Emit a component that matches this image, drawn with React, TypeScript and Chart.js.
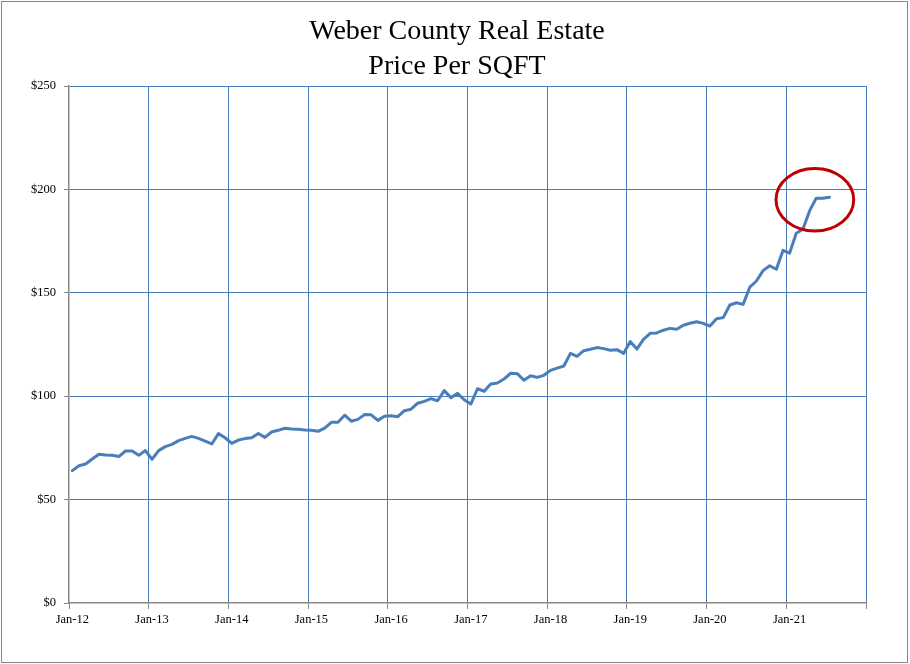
import { useEffect, useRef } from "react";
import { Chart, registerables } from "chart.js";

Chart.register(...registerables);

const years = ["12", "13", "14", "15", "16", "17", "18", "19", "20", "21"];
const monthNames = ["Jan", "Feb", "Mar", "Apr", "May", "Jun", "Jul", "Aug", "Sep", "Oct", "Nov", "Dec"];
const categories = years.flatMap((y) => monthNames.map((m) => `${m}-${y}`));

const pricePerSqft = [
  64.0, 66.4, 67.2, 69.6, 71.9, 71.6, 71.4, 70.8, 73.5, 73.5, 71.4, 73.7,
  69.5, 73.7, 75.6, 76.7, 78.5, 79.6, 80.6, 79.6, 78.3, 76.9, 81.9, 79.9,
  77.2, 78.8, 79.5, 79.9, 82.0, 80.1, 82.7, 83.5, 84.5, 84.1, 84.0, 83.7,
  83.5, 83.0, 84.6, 87.4, 87.4, 90.8, 87.9, 88.8, 91.1, 91.0, 88.3, 90.3,
  90.5, 90.1, 93.0, 93.7, 96.6, 97.5, 98.8, 97.8, 102.7, 99.3, 101.4, 98.3,
  96.2, 103.6, 102.4, 105.9, 106.4, 108.3, 111.1, 110.9, 107.7, 109.9, 109.1, 110.1,
  112.5, 113.6, 114.6, 120.7, 119.3, 122.0, 122.7, 123.5, 123.0, 122.2, 122.5, 120.7,
  126.4, 122.8, 127.5, 130.4, 130.6, 131.9, 132.8, 132.4, 134.3, 135.3, 136.0, 135.2,
  133.9, 137.5, 138.0, 144.1, 145.2, 144.4, 152.7, 155.7, 160.7, 163.1, 161.4, 170.5,
  169.2, 178.8, 180.7, 189.6, 195.7, 195.7, 196.2,
];

const yMin = 0;
const yMax = 250;
const yStep = 50;
const titleLines = ["Weber County Real Estate", "Price Per SQFT"];

// highlight ellipse, in data units (category index / dollars)
const highlight = { centerIndex: 111.8, centerValue: 195, radiusMonths: 5.85, radiusDollars: 15.1 };

const BLUE_GRID = "#4A7EBB";
const AXIS_GRAY = "#868686";
const LINE_BLUE = "#4A7EBB";
const FONT_FAMILY = '"Liberation Serif", "Times New Roman", serif';

export default function App() {
  const canvasRef = useRef<HTMLCanvasElement | null>(null);

  useEffect(() => {
    document.body.style.margin = "0";
    const canvas = canvasRef.current;
    if (!canvas) return;

    const decorPlugin = {
      id: "decor",
      beforeDraw(chart: any) {
        const ctx = chart.ctx;
        ctx.save();
        ctx.fillStyle = "#ffffff";
        ctx.fillRect(0, 0, chart.width, chart.height);
        ctx.strokeStyle = AXIS_GRAY;
        ctx.lineWidth = 1;
        ctx.strokeRect(1.5, 1.5, chart.width - 4, chart.height - 3);
        ctx.fillStyle = "#000000";
        ctx.font = `28px ${FONT_FAMILY}`;
        ctx.textAlign = "center";
        ctx.textBaseline = "alphabetic";
        ctx.fillText(titleLines[0], 457, 39);
        ctx.fillText(titleLines[1], 457, 74);
        ctx.restore();
      },
      afterDatasetsDraw(chart: any) {
        const xs = chart.scales.x;
        const ys = chart.scales.y;
        const cx = xs.getPixelForValue(highlight.centerIndex);
        const cy = ys.getPixelForValue(highlight.centerValue);
        const rx = Math.abs(xs.getPixelForValue(highlight.centerIndex + highlight.radiusMonths) - cx);
        const ry = Math.abs(ys.getPixelForValue(highlight.centerValue + highlight.radiusDollars) - cy);
        const ctx = chart.ctx;
        ctx.save();
        ctx.strokeStyle = "#C00000";
        ctx.lineWidth = 3;
        ctx.beginPath();
        ctx.ellipse(cx, cy, rx, ry, 0, 0, Math.PI * 2);
        ctx.stroke();
        ctx.restore();
      },
    };

    const chart = new Chart(canvas, {
      type: "line",
      data: {
        labels: categories,
        datasets: [
          {
            data: pricePerSqft,
            borderColor: LINE_BLUE,
            borderWidth: 3,
            pointRadius: 0,
            tension: 0,
            borderJoinStyle: "round",
            borderCapStyle: "round",
            fill: false,
          },
        ],
      },
      options: {
        animation: false,
        responsive: false,
        devicePixelRatio: 1,
        layout: { padding: { top: 86, right: 44, left: 0, bottom: 0 } },
        plugins: {
          legend: { display: false },
          title: { display: false },
          tooltip: { enabled: false },
        },
        scales: {
          x: {
            type: "category",
            offset: true,
            afterFit(scale: any) {
              scale.height = 61;
            },
            grid: {
              offset: true,
              color: (ctx: any) =>
                ctx.type !== "tick" ? BLUE_GRID : ctx.index % 12 === 0 && ctx.index > 0 ? BLUE_GRID : "rgba(0,0,0,0)",
              tickColor: (ctx: any) =>
                ctx.type !== "tick" ? AXIS_GRAY : ctx.index % 12 === 0 ? AXIS_GRAY : "rgba(0,0,0,0)",
              lineWidth: 1,
              tickLength: 6,
              drawTicks: true,
            },
            border: { color: AXIS_GRAY, width: 1.5 },
            ticks: {
              autoSkip: false,
              maxRotation: 0,
              minRotation: 0,
              padding: 3,
              color: "#000000",
              font: { family: FONT_FAMILY, size: 12.5 },
              callback: (_v: any, i: number) => (i % 12 === 0 ? categories[i] : ""),
            },
          },
          y: {
            min: yMin,
            max: yMax,
            afterFit(scale: any) {
              scale.width = 69;
            },
            grid: {
              color: (ctx: any) => (ctx.tick && ctx.tick.value === yMin ? "rgba(0,0,0,0)" : BLUE_GRID),
              tickColor: AXIS_GRAY,
              lineWidth: 1,
              tickLength: 5,
            },
            border: { color: AXIS_GRAY, width: 1.5 },
            ticks: {
              stepSize: yStep,
              padding: 8,
              color: "#000000",
              font: { family: FONT_FAMILY, size: 12.5 },
              callback: (v: any) => `$${v}`,
            },
          },
        },
      },
      plugins: [decorPlugin],
    });

    return () => {
      chart.destroy();
    };
  }, []);

  return (
    <div style={{ width: 910, height: 664 }}>
      <canvas ref={canvasRef} width={910} height={664} style={{ display: "block" }} />
    </div>
  );
}
